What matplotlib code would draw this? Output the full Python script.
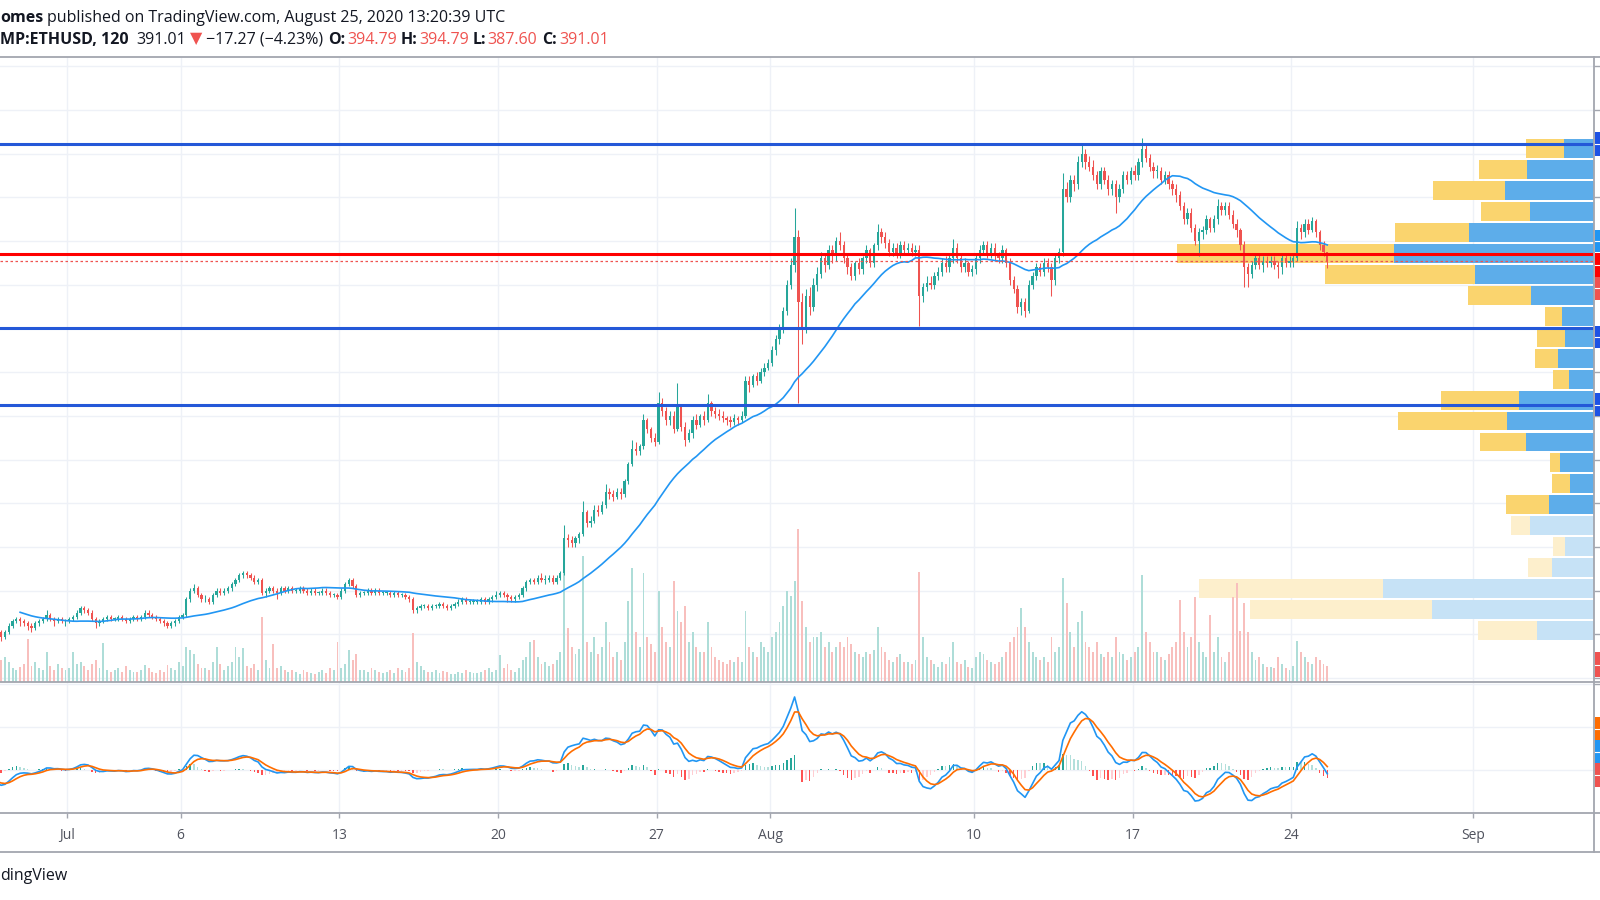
import numpy as np
import matplotlib
matplotlib.use("Agg")
import matplotlib.pyplot as plt
import matplotlib.transforms as mtransforms
from matplotlib.patches import Rectangle
from matplotlib.lines import Line2D

W, H = 1600, 900

# ------------------------------------------------------------------ data
start_day = -7.0          # first bar: Jun 24 00:00 (days counted from Jul 1 00:00)
bar_days = 4.0 / 24.0     # 4-hour bars
first_open = 244.0

close = [
    242, 240, 239, 237, 236, 235,   # Jun 24
    234, 233, 232, 233, 232, 232,   # Jun 25
    231, 232, 231, 230, 231, 230,   # Jun 26
    229, 228, 226, 224, 222, 221,   # Jun 27
    219, 221, 224, 226, 227, 226,   # Jun 28
    225, 224, 223, 225, 226, 227,   # Jun 29
    229, 227, 226, 227, 226, 226,   # Jun 30
    227, 228, 230, 232, 231, 230,   # Jul 1
    227, 225, 226, 227, 228, 227,   # Jul 2
    227, 228, 227, 226, 227, 228,   # Jul 3
    227, 228, 230, 229, 228, 227,   # Jul 4
    226, 225, 224, 225, 226, 228,   # Jul 5
    229, 236, 240, 241, 238, 236,   # Jul 6
    236, 235, 238, 240, 239, 240,   # Jul 7
    241, 243, 245, 247, 248, 247,   # Jul 8
    246, 244, 245, 239, 240, 241,   # Jul 9
    240, 239, 241, 240, 241, 240,   # Jul 10
    240, 241, 240, 239, 240, 239,   # Jul 11
    239, 240, 239, 238, 238, 237,   # Jul 12
    240, 243, 245, 242, 238, 239,   # Jul 13
    239, 240, 239, 240, 239, 239,   # Jul 14
    239, 238, 239, 238, 238, 237,   # Jul 15
    236, 231, 232, 233, 233, 232,   # Jul 16
    233, 233, 234, 233, 232, 233,   # Jul 17
    234, 235, 236, 235, 235, 235,   # Jul 18
    235, 236, 235, 236, 237, 238,   # Jul 19
    239, 238, 237, 236, 237, 238,   # Jul 20
    241, 244, 245, 244, 246, 245,   # Jul 21
    245, 246, 244, 246, 248, 264,   # Jul 22
    263, 262, 264, 266, 276, 271,   # Jul 23
    272, 277, 276, 279, 285, 284,   # Jul 24
    283, 285, 284, 290, 298, 305,   # Jul 25
    304, 306, 318, 314, 310, 308,   # Jul 26
    326, 322, 318, 320, 314, 324,   # Jul 27
    315, 309, 312, 318, 316, 320,   # Jul 28
    318, 326, 322, 321, 320, 319,   # Jul 29
    318, 317, 319, 318, 320, 336,   # Jul 30
    334, 338, 336, 340, 342, 344,   # Jul 31
    350, 355, 360, 368, 380, 389,   # Aug 1
    402, 372, 360, 375, 370, 380,   # Aug 2
    385, 392, 389, 396, 393, 400,   # Aug 3
    398, 392, 388, 384, 390, 387,   # Aug 4
    392, 396, 390, 398, 404, 402,   # Aug 5
    399, 395, 397, 394, 398, 396,   # Aug 6
    397, 395, 396, 375, 379, 381,   # Aug 7
    380, 384, 386, 390, 388, 392,   # Aug 8
    397, 392, 388, 390, 386, 387,   # Aug 9
    392, 396, 398, 394, 397, 393,   # Aug 10
    392, 396, 390, 382, 378, 370,   # Aug 11
    372, 368, 380, 384, 388, 386,   # Aug 12
    390, 388, 382, 392, 395, 424,   # Aug 13
    420, 428, 426, 436, 440, 436,   # Aug 14
    434, 430, 426, 432, 428, 424,   # Aug 15
    426, 420, 424, 430, 428, 432,   # Aug 16
    430, 436, 442, 438, 434, 432,   # Aug 17
    432, 428, 430, 426, 424, 421,   # Aug 18
    416, 410, 413, 406, 400, 404,   # Aug 19
    405, 410, 406, 410, 416, 414,   # Aug 20
    416, 412, 408, 405, 398, 388,   # Aug 21
    385, 389, 392, 389, 391, 390,   # Aug 22
    391, 389, 388, 392, 390, 391,   # Aug 23
    392, 406, 404, 408, 405, 409,   # Aug 24
    404, 398, 394.79, 391.01,       # Aug 25
]

high = [
    245, 243, 241, 240, 238, 237,
    236, 235, 234, 234, 234, 233,
    233, 233, 233, 232, 232, 232,
    231, 230, 229, 227, 225, 223,
    222, 222, 225, 227, 228, 228,
    227, 226, 225, 226, 227, 228,
    231, 230, 228, 228, 228, 227,
    228, 229, 231, 233, 233, 232,
    231, 228, 227, 228, 229, 229,
    228, 229, 229, 228, 228, 229,
    229, 229, 231, 231, 230, 229,
    228, 227, 226, 226, 227, 229,
    230, 237, 241, 243, 242, 239,
    238, 237, 239, 241, 241, 241,
    242, 244, 246, 248, 249, 249,
    248, 247, 246, 246, 241, 242,
    242, 241, 242, 242, 242, 242,
    241, 242, 242, 241, 241, 241,
    240, 241, 241, 240, 239, 239,
    241, 244, 246, 246, 243, 240,
    240, 241, 241, 241, 241, 240,
    240, 240, 240, 240, 239, 239,
    238, 237, 233, 234, 234, 234,
    234, 234, 235, 235, 234, 234,
    235, 236, 237, 237, 236, 236,
    236, 237, 237, 237, 238, 240,
    240, 240, 239, 238, 238, 239,
    242, 245, 246, 246, 247, 248,
    247, 247, 247, 247, 249, 270,
    266, 265, 265, 267, 281, 277,
    274, 279, 279, 281, 289, 287,
    286, 287, 287, 291, 299, 309,
    308, 307, 321, 319, 315, 312,
    331, 328, 324, 322, 322, 335,
    325, 317, 314, 320, 321, 321,
    322, 330, 327, 324, 323, 322,
    320, 320, 321, 320, 322, 338,
    338, 339, 340, 342, 344, 346,
    352, 357, 362, 370, 382, 392,
    415, 405, 376, 378, 379, 383,
    388, 395, 394, 398, 398, 402,
    404, 400, 394, 390, 391, 392,
    393, 398, 397, 399, 408, 406,
    404, 401, 399, 399, 400, 400,
    399, 399, 398, 398, 381, 384,
    384, 386, 388, 392, 393, 394,
    401, 399, 394, 392, 391, 389,
    394, 398, 400, 400, 399, 399,
    395, 398, 397, 392, 384, 380,
    374, 374, 382, 386, 390, 390,
    392, 392, 390, 394, 397, 431,
    427, 430, 430, 439, 445, 442,
    439, 437, 432, 434, 434, 430,
    428, 428, 426, 432, 432, 434,
    435, 438, 447, 444, 440, 436,
    435, 434, 432, 432, 428, 426,
    423, 418, 415, 415, 408, 406,
    407, 412, 411, 412, 419, 418,
    418, 418, 414, 410, 406, 400,
    390, 391, 394, 394, 393, 393,
    393, 393, 391, 394, 394, 393,
    394, 409, 408, 410, 410, 411,
    410, 405, 400, 394.79,
]

low = [
    241, 239, 238, 236, 235, 234,
    233, 232, 231, 231, 231, 231,
    230, 230, 230, 229, 229, 229,
    228, 227, 225, 223, 221, 219,
    217, 218, 220, 223, 225, 224,
    224, 222, 221, 222, 224, 225,
    226, 226, 224, 225, 225, 224,
    225, 226, 227, 229, 230, 229,
    226, 223, 224, 225, 226, 226,
    226, 226, 226, 225, 225, 226,
    226, 226, 227, 228, 227, 226,
    225, 224, 223, 223, 224, 225,
    227, 228, 235, 239, 237, 235,
    235, 234, 234, 237, 238, 238,
    239, 240, 242, 244, 246, 246,
    245, 243, 243, 238, 237, 239,
    239, 236, 238, 239, 239, 239,
    239, 239, 239, 238, 238, 238,
    238, 238, 238, 237, 237, 236,
    236, 239, 242, 241, 237, 237,
    238, 238, 238, 238, 238, 238,
    238, 237, 237, 237, 237, 236,
    235, 230, 230, 231, 232, 231,
    231, 232, 232, 232, 231, 231,
    232, 233, 234, 234, 234, 234,
    234, 234, 234, 234, 235, 236,
    237, 237, 235, 235, 235, 236,
    237, 240, 243, 243, 243, 244,
    243, 244, 243, 243, 245, 247,
    260, 260, 260, 262, 265, 269,
    269, 271, 274, 275, 278, 282,
    281, 282, 282, 283, 289, 297,
    302, 302, 305, 312, 308, 306,
    307, 320, 316, 316, 312, 313,
    313, 306, 308, 310, 314, 315,
    316, 317, 320, 319, 318, 317,
    316, 315, 316, 316, 317, 319,
    331, 333, 334, 335, 338, 341,
    343, 348, 353, 358, 366, 378,
    386, 326, 353, 358, 366, 368,
    377, 383, 386, 387, 390, 391,
    396, 390, 385, 382, 382, 385,
    385, 390, 388, 388, 396, 399,
    397, 393, 393, 392, 392, 394,
    394, 393, 393, 361, 372, 377,
    378, 378, 382, 384, 386, 386,
    390, 390, 386, 386, 384, 384,
    385, 390, 394, 392, 392, 391,
    390, 390, 388, 380, 376, 367,
    366, 365, 367, 378, 382, 384,
    384, 386, 375, 380, 390, 393,
    418, 418, 423, 424, 434, 433,
    432, 428, 424, 424, 426, 421,
    421, 413, 418, 422, 426, 426,
    428, 428, 434, 436, 432, 429,
    429, 426, 426, 424, 421, 418,
    414, 408, 408, 404, 398, 393,
    401, 403, 404, 404, 408, 412,
    412, 410, 406, 402, 396, 379,
    379, 383, 387, 387, 386, 388,
    388, 387, 383, 385, 388, 388,
    388, 391, 401, 402, 403, 404,
    402, 396, 393, 387.6,
]

volume = [
    18, 14, 20, 12, 16, 14,
    12, 10, 15, 18, 11, 10,
    12, 10, 14, 16, 10, 9,
    14, 16, 20, 24, 26, 18,
    22, 25, 20, 14, 12, 15,
    18, 43, 16, 20, 14, 12,
    30, 16, 12, 18, 14, 12,
    14, 30, 18, 20, 16, 12,
    18, 22, 14, 39, 12, 10,
    12, 14, 10, 16, 12, 10,
    10, 12, 17, 14, 10, 9,
    12, 10, 17, 14, 12, 20,
    16, 35, 32, 28, 18, 14,
    14, 12, 20, 35, 18, 12,
    16, 20, 35, 25, 34, 16,
    14, 18, 12, 65, 22, 14,
    38, 14, 16, 12, 10, 12,
    10, 8, 12, 10, 9, 8,
    10, 12, 9, 14, 12, 40,
    14, 18, 32, 22, 28, 12,
    12, 10, 14, 12, 10, 9,
    10, 12, 9, 14, 12, 10,
    14, 49, 20, 16, 12, 10,
    10, 12, 9, 11, 10, 8,
    8, 10, 9, 12, 10, 9,
    9, 10, 12, 14, 10, 12,
    27, 14, 18, 12, 10, 14,
    22, 25, 40, 42, 25, 18,
    20, 16, 18, 22, 30, 110,
    54, 35, 28, 33, 125, 40,
    30, 45, 28, 35, 60, 40,
    25, 30, 22, 40, 80, 113,
    50, 35, 108, 45, 38, 30,
    90, 55, 40, 35, 100, 70,
    60, 75, 40, 50, 35, 30,
    30, 60, 35, 25, 22, 20,
    18, 22, 20, 25, 20, 70,
    35, 30, 25, 40, 35, 30,
    45, 50, 60, 75, 90, 85,
    100, 152, 80, 55, 40, 45,
    45, 50, 35, 40, 30, 35,
    40, 35, 45, 38, 30, 28,
    25, 30, 28, 32, 55, 35,
    30, 22, 20, 25, 28, 20,
    20, 18, 22, 109, 45, 25,
    22, 18, 15, 20, 18, 25,
    40, 20, 18, 22, 15, 14,
    25, 30, 28, 22, 20, 18,
    20, 25, 30, 40, 45, 55,
    73, 55, 40, 30, 25, 22,
    25, 20, 45, 30, 35, 103,
    78, 50, 35, 60, 70, 40,
    35, 30, 40, 28, 25, 30,
    25, 45, 30, 28, 22, 25,
    30, 35, 106, 50, 40, 30,
    30, 25, 22, 28, 35, 40,
    81, 50, 35, 45, 84, 40,
    30, 25, 67, 30, 45, 25,
    20, 30, 84, 98, 51, 78,
    50, 30, 22, 25, 18, 15,
    15, 14, 25, 18, 14, 12,
    16, 41, 30, 25, 20, 18,
    25, 22, 18, 16,
]

# horizontal levels drawn on the chart
level_top = 444.4
level_mid = 360.0
level_low = 325.0
level_red = 394.0
last_close = 391.01
change_abs = -17.27
change_pct = -4.23

# visible-range volume profile, 24 rows from top to bottom
vp_up = [30, 67, 89, 64, 125, 200, 119, 63, 32, 29, 36, 25,
         75, 87, 68, 34, 24, 45, 64, 29, 42, 211, 162, 57]
vp_down = [38, 48, 72, 49, 74, 217, 150, 63, 17, 28, 23, 16,
           78, 109, 46, 10, 18, 43, 19, 12, 24, 184, 182, 59]
vp_value_rows = 18

tick_days = [0, 5, 12, 19, 26, 31, 40, 47, 54, 62]
tick_labels = ['Jul', '6', '13', '20', '27', 'Aug', '10', '17', '24', 'Sep']
price_grid = list(range(200, 481, 20))

# ------------------------------------------------------------------ style
UP, DOWN = '#26A69A', '#EF5350'
GRID = '#EEF1F7'
BORDER = '#A3A6AF'
TEXT = '#131722'
AXTEXT = '#50535E'
FAM = ['Open Sans', 'DejaVu Sans']

x_left, x_right = -2.971, 67.35
y_bottom, y_top = 198.2, 484.2

assert len(close) == len(high) == len(low) == len(volume)

c = np.array(close, float)
o = np.r_[first_open, c[:-1]]
hi = np.maximum(np.array(high, float), np.maximum(o, c))
lo = np.minimum(np.array(low, float), np.minimum(o, c))
vol = np.array(volume, float)
n = len(c)
x = start_day + (np.arange(n) + 0.5) * bar_days
is_up = c >= o
cols = np.where(is_up, UP, DOWN)

fig = plt.figure(figsize=(W / 100, H / 100), dpi=100)
fig.patch.set_facecolor('white')


def box(top_px, bottom_px, left_px=0, right_px=1594):
    return [left_px / W, 1 - bottom_px / H, (right_px - left_px) / W, (bottom_px - top_px) / H]


ax = fig.add_axes(box(57, 682))
ax_m = fig.add_axes(box(682, 813), sharex=ax)
ax_vol = ax.twinx()
ax_vp = ax.twiny()

ax.set_zorder(3)
ax_vol.set_zorder(2)
ax_vp.set_zorder(1)
for a in (ax, ax_vol, ax_vp, ax_m):
    a.patch.set_visible(False)
    for s in a.spines.values():
        s.set_visible(False)

# ---------------- grid (lowest layer)
for p in price_grid:
    ax_vp.axhline(p, color=GRID, lw=1.0, zorder=0)
trans_v = mtransforms.blended_transform_factory(ax.transData, ax_vp.transAxes)
for d in tick_days:
    ax_vp.add_line(Line2D([d, d], [0, 1], transform=trans_v, color=GRID, lw=1.0, zorder=0))

# ---------------- volume profile
vis = x >= x_left
vp_hi = hi[vis].max()
vp_lo = lo[vis].min()
nrows = len(vp_up)
step = (vp_hi - vp_lo) / nrows
centers = vp_hi - (np.arange(nrows) + 0.5) * step
up_c = ['#5DADEA' if i < vp_value_rows else '#C6E2F6' for i in range(nrows)]
dn_c = ['#FAD46E' if i < vp_value_rows else '#FDEFCC' for i in range(nrows)]
ax_vp.barh(centers, vp_up, height=step * 0.9, left=0, color=up_c, zorder=2, linewidth=0)
ax_vp.barh(centers, vp_down, height=step * 0.9, left=vp_up, color=dn_c, zorder=2, linewidth=0)
tot = np.array(vp_up) + np.array(vp_down)
ax_vp.set_xlim(tot.max() / 0.2616, 0)
ax_vp.xaxis.set_visible(False)
ax_vp.yaxis.set_visible(False)

# ---------------- volume bars
vcols = np.where(is_up, '#AEDDD8', '#F8BFBD')
ax_vol.bar(x, vol, width=bar_days * 0.5, color=vcols, linewidth=0, zorder=2)
ax_vol.set_ylim(0, vol.max() / 0.245)
ax_vol.yaxis.set_visible(False)

# ---------------- candles
ax.vlines(x, lo, hi, colors=cols, lw=0.75, zorder=3)
ax.bar(x, np.maximum(np.abs(c - o), 0.3), bottom=np.minimum(o, c), width=bar_days * 0.6,
       color=cols, linewidth=0, zorder=4)

ma_len = 30
ma = np.convolve(c, np.ones(ma_len) / ma_len, mode='valid')
ax.plot(x[ma_len - 1:], ma, color='#2196F3', lw=1.2, zorder=5)

ax.axhline(last_close, color=DOWN, lw=0.9, ls=(0, (2, 2)), zorder=5)
ax.axhline(level_red, color='#FF0000', lw=2.2, zorder=6)
for lv in (level_top, level_mid, level_low):
    ax.axhline(lv, color='#2458D8', lw=2.2, zorder=6)

ax.set_xlim(x_left, x_right)
ax.set_ylim(y_bottom, y_top)
ax.yaxis.tick_right()
ax.set_yticks(price_grid)
ax.tick_params(axis='y', right=True, left=False, labelright=False, labelleft=False,
               length=4, width=1, color=BORDER)
ax.tick_params(axis='x', bottom=False, top=False, labelbottom=False, labeltop=False)

# ---------------- MACD


def ema(v, span):
    a = 2.0 / (span + 1.0)
    out = np.empty_like(v)
    out[0] = v[0]
    for i in range(1, len(v)):
        out[i] = a * v[i] + (1 - a) * out[i - 1]
    return out


macd = ema(c, 6) - ema(c, 13)
sig = ema(macd, 4.5)
hist = macd - sig
hcols = []
for i in range(n):
    prev = hist[i - 1] if i > 0 else hist[i]
    if hist[i] >= 0:
        hcols.append('#26A69A' if hist[i] >= prev else '#B2DFDB')
    else:
        hcols.append('#FF5252' if hist[i] < prev else '#FFCDD2')
ax_m.bar(x, hist, width=bar_days * 0.4, color=hcols, linewidth=0, zorder=2)
ax_m.plot(x, macd, color='#2196F3', lw=1.2, zorder=4)
ax_m.plot(x, sig, color='#FF6D00', lw=1.2, zorder=5)
vals = np.concatenate([macd[vis], sig[vis], hist[vis]])
mlo, mhi = vals.min(), vals.max()
span = mhi - mlo
ylo, yhi = mlo - 0.115 * span, mhi + 0.144 * span
ax_m.set_ylim(ylo, yhi)
ax_m.set_yticks(np.arange(np.ceil(ylo / 10) * 10, yhi, 10))
ax_m.yaxis.tick_right()
ax_m.tick_params(axis='y', right=True, left=False, labelright=False, labelleft=False,
                 length=4, width=1, color=BORDER)
ax_m.grid(True, color=GRID, lw=1.0)
ax_m.set_axisbelow(True)
ax_m.set_xticks(tick_days)
ax_m.set_xticklabels(tick_labels)
ax_m.tick_params(axis='x', bottom=True, direction='out', length=3.5, width=1, color=BORDER,
                 pad=7.5, labelsize=10, labelcolor=AXTEXT)
for lab in ax_m.get_xticklabels():
    lab.set_family(FAM)
ax_m.set_xlim(x_left, x_right)

# ---------------- frame lines
for yy in (57, 682, 813, 852):
    fig.add_artist(Line2D([0, 1], [1 - yy / H] * 2, transform=fig.transFigure,
                          color=BORDER, lw=1.3, zorder=20))
fig.add_artist(Line2D([1594 / W] * 2, [1 - 57 / H, 1 - 852 / H], transform=fig.transFigure,
                      color=BORDER, lw=1.3, zorder=20))

# price-scale labels peeking at the right edge
tags_px = [(132, 156, '#1E53E5'), (230, 252, '#2196F3'), (253, 277, '#FF0000'),
           (277, 300, '#EF5350'), (326, 348, '#1E53E5'), (393, 416, '#1E53E5'),
           (652, 677, '#EF5350'), (717, 740, '#FF6D00'), (740, 763, '#2196F3'),
           (763, 787, '#EF5350')]
for top, bot, col in tags_px:
    fig.add_artist(Rectangle((1595 / W, 1 - bot / H), 5 / W, (bot - top) / H,
                             transform=fig.transFigure, color=col, zorder=21, linewidth=0))
    mid = 1 - (top + bot) / 2 / H
    fig.add_artist(Line2D([1595 / W, 1599 / W], [mid, mid], transform=fig.transFigure,
                          color='white', lw=0.8, zorder=22))

# ---------------- header / footer text
renderer = fig.canvas.get_renderer()


def measure(s, size, weight='normal'):
    t = fig.text(0, 0, s, fontsize=size, fontweight=weight, family=FAM)
    w = t.get_window_extent(renderer=renderer).width
    t.remove()
    return w


pub = "published on TradingView.com, August 25, 2020 13:20:39 UTC"
hsize = 10.0 * 459.0 / measure(pub, 10.0)


def draw_seq(parts, baseline_px, size):
    xpos = 0.0
    for s, weight, color, gap in parts:
        t = fig.text(xpos / W, 1 - baseline_px / H, s, fontsize=size, fontweight=weight,
                     color=color, family=FAM, va='baseline', ha='left')
        xpos += t.get_window_extent(renderer=renderer).width + gap


draw_seq([("omes", 'bold', TEXT, 4), (pub, 'normal', TEXT, 0)], 21.5, hsize)
draw_seq([
    ("MP:ETHUSD, 120", 'bold', TEXT, 8),
    (f"{last_close:.2f}", 'normal', TEXT, 4),
    ("\u25BC", 'normal', DOWN, 3),
    (f"\u2212{abs(change_abs):.2f} (\u2212{abs(change_pct):.2f}%)", 'normal', TEXT, 5),
    ("O:", 'bold', TEXT, 2), (f"{o[-1]:.2f}", 'normal', DOWN, 4),
    ("H:", 'bold', TEXT, 2), (f"{hi[-1]:.2f}", 'normal', DOWN, 3),
    ("L:", 'bold', TEXT, 2), (f"{lo[-1]:.2f}", 'normal', DOWN, 5),
    ("C:", 'bold', TEXT, 2), (f"{c[-1]:.2f}", 'normal', DOWN, 0),
], 43.5, hsize)

fig.text(0, 1 - 880 / H, "dingView", fontsize=hsize, color=TEXT, family=FAM,
         va='baseline', ha='left')

fig.savefig("out.png", dpi=100, facecolor='white')
